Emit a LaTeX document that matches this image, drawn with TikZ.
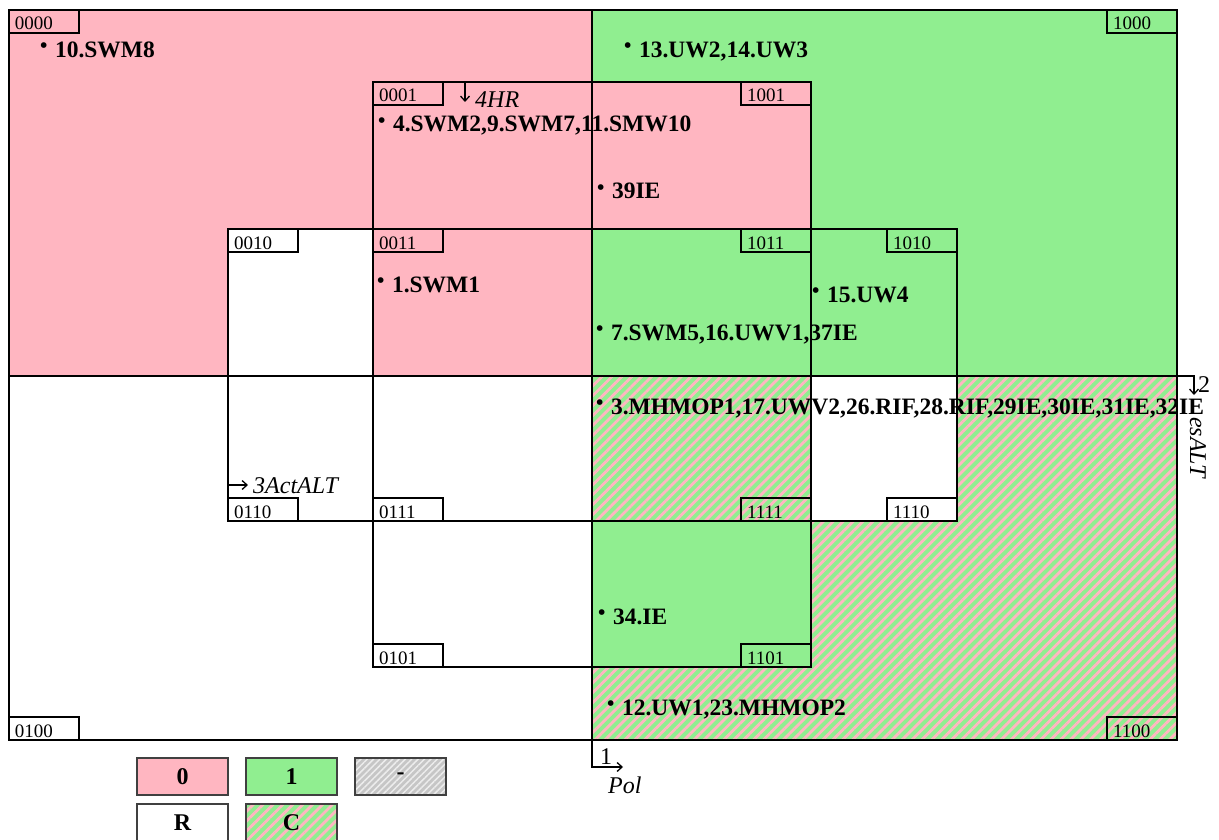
\documentclass[tikz,border=0pt]{standalone}
\usepackage{fontspec}
\setmainfont{Liberation Serif}
\usetikzlibrary{patterns.meta,arrows.meta}
\definecolor{pk}{HTML}{FFB6C1}
\definecolor{gn}{HTML}{90EE90}
\newcommand{\bul}{\raisebox{5pt}{\fontsize{21}{21}\selectfont\textbullet}\hspace{7.5pt}}
\begin{document}
\begin{tikzpicture}[x=1pt,y=-1pt,
  mainline/.style={line width=1.5pt, draw=black},
  hatch/.style={pattern={Lines[angle=45,distance=7pt,line width=2.8pt]}, pattern color=pk},
  grayhatch/.style={pattern={Lines[angle=45,distance=4.5pt,line width=1.5pt]}, pattern color=white!85!gray},
  codebox/.style={draw, line width=1.3pt, minimum width=70pt, minimum height=23pt, text width=58pt,
    inner xsep=6pt, inner ysep=0pt, outer sep=0pt, text height=17pt, text depth=0pt, align=left,
    font=\fontsize{19}{19}\selectfont},
  item/.style={anchor=base west, inner sep=0pt, font=\fontsize{23.5}{26}\selectfont\bfseries},
  axislbl/.style={inner sep=0pt, anchor=base west, font=\fontsize{24}{26}\selectfont\itshape},
  axisnum/.style={inner sep=0pt, anchor=base west, font=\fontsize{24}{26}\selectfont},
  arr/.style={line width=1.3pt, -{Straight Barb[length=5pt,width=9pt]}},
  legendbox/.style={draw=black!75, line width=1.8pt, minimum width=91pt, minimum height=37pt,
    inner sep=0pt, outer sep=0pt, anchor=north west, font=\fontsize{24}{26}\selectfont\bfseries}
]
\useasboundingbox (0,0) rectangle (1219,840);

% region fills
\fill[pk] (9,10) rectangle (592,376);
\fill[gn] (592,10) rectangle (1177,376);
\fill[gn] (592,376) rectangle (1177,740);
\fill[hatch] (592,376) rectangle (1177,740);
\fill[white] (228,229) rectangle (373,376);
\fill[pk] (592,82) rectangle (811,229);
\fill[gn] (592,521) rectangle (811,667);
\fill[white] (811,376) rectangle (957,521);

% variable rectangles
\node[mainline, minimum width=1168pt, minimum height=730pt, inner sep=0pt, outer sep=0pt, anchor=north west] (outer) at (9,10) {};
\node[mainline, minimum width=438pt, minimum height=585pt, inner sep=0pt, outer sep=0pt, anchor=north west] (hrbox) at (373,82) {};
\node[mainline, minimum width=729pt, minimum height=292pt, inner sep=0pt, outer sep=0pt, anchor=north west] (actbox) at (228,229) {};

% axis 1 (Pol) and axis 2 (esALT)
\coordinate (polTop) at (592,10);
\coordinate (polBend) at (592,767);
\coordinate (polEnd) at (623,767);
\draw[arr] (polTop) -- (polBend) -- (polEnd);
\coordinate (esStart) at (9,376);
\coordinate (esBend) at (1194,376);
\coordinate (esEnd) at (1194,395);
\draw[arr] (esStart) -- (esBend) -- (esEnd);
% axis 4 (HR) and axis 3 (ActALT)
\coordinate (hrA) at (465,82);
\coordinate (hrB) at (465,102);
\draw[arr] (hrA) -- (hrB);
\coordinate (actA) at (228,485);
\coordinate (actB) at (248,485);
\draw[arr] (actA) -- (actB);

\node[axislbl] (hr) at (475,108) {4HR};
\node[axislbl] (act) at (253,493) {3ActALT};
\node[axisnum] (one) at (600,764) {1};
\node[axislbl] (pol) at (608,793) {Pol};
\node[axisnum] (two) at (1198,392) {2};
\node[axislbl, rotate=-90] (es) at (1190,417) {esALT};

% items
\node[item] (i10) at (40,58) {\bul 10.SWM8};
\node[item] (i13) at (624,58) {\bul 13.UW2,14.UW3};
\node[item] (i4) at (378,132) {\bul 4.SWM2,9.SWM7,11.SMW10};
\node[item] (i39) at (597,199) {\bul 39IE};
\node[item] (i1) at (377,292) {\bul 1.SWM1};
\node[item] (i15) at (812,302) {\bul 15.UW4};
\node[item] (i7) at (596,340) {\bul 7.SWM5,16.UWV1,37IE};
\node[item] (i3) at (596,414) {\bul 3.MHMOP1,17.UWV2,26.RIF,28.RIF,29IE,30IE,31IE,32IE};
\node[item] (i34) at (598,624) {\bul 34.IE};
\node[item] (i12) at (607,715) {\bul 12.UW1,23.MHMOP2};

% code boxes
\node[codebox, anchor=north west] (k0000) at (9,10) {0000};
\node[codebox, anchor=north east] (k1000) at (1177,10) {1000};
\node[codebox, anchor=north west] (k0001) at (373,82) {0001};
\node[codebox, anchor=north east] (k1001) at (811,82) {1001};
\node[codebox, anchor=north west] (k0010) at (228,229) {0010};
\node[codebox, anchor=north west] (k0011) at (373,229) {0011};
\node[codebox, anchor=north east] (k1011) at (811,229) {1011};
\node[codebox, anchor=north east] (k1010) at (957,229) {1010};
\node[codebox, anchor=south west] (k0110) at (228,521) {0110};
\node[codebox, anchor=south west] (k0111) at (373,521) {0111};
\node[codebox, anchor=south east] (k1111) at (811,521) {1111};
\node[codebox, anchor=south east] (k1110) at (957,521) {1110};
\node[codebox, anchor=south west] (k0101) at (373,667) {0101};
\node[codebox, anchor=south east] (k1101) at (811,667) {1101};
\node[codebox, anchor=south west] (k0100) at (9,740) {0100};
\node[codebox, anchor=south east] (k1100) at (1177,740) {1100};

% legend
\node[legendbox, fill=pk] (l0) at (137,758) {0};
\node[legendbox, fill=gn] (l1) at (246,758) {1};
\node[legendbox, preaction={fill=gray!45}, grayhatch] (ld) at (355,758) {-};
\node[legendbox, fill=white] (lR) at (137,804) {R};
\node[legendbox, preaction={fill=gn}, hatch] (lC) at (246,804) {C};
\end{tikzpicture}
\end{document}
